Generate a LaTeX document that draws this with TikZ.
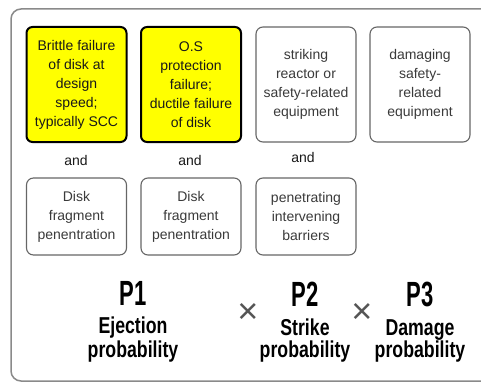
\documentclass[tikz,border=0pt]{standalone}
\usepackage{fontspec}
\setmainfont{Liberation Sans}
\definecolor{boxyellow}{HTML}{FFFF00}
\definecolor{framegray}{HTML}{8A8A8A}
\definecolor{boxgray}{HTML}{666666}
\definecolor{txtgray}{HTML}{3A3A3A}
\definecolor{timesgray}{HTML}{555555}
\begin{document}
\begin{tikzpicture}[x=1pt,y=-1pt,
  ybox/.style={draw=black, line width=2pt, fill=boxyellow, rounded corners=6pt,
    minimum width=100pt, minimum height=115pt, inner sep=0pt, align=center,
    font=\fontsize{14}{19}\selectfont, text=black!90},
  wbox/.style={draw=boxgray, line width=1.1pt, rounded corners=7pt,
    minimum width=100pt, minimum height=115pt, inner sep=0pt, align=center,
    font=\fontsize{14}{19}\selectfont, text=txtgray},
  wboxs/.style={wbox, minimum height=77pt},
  andlbl/.style={font=\fontsize{14}{19}\selectfont, text=black!90, inner sep=0pt},
  plbl/.style={anchor=base, inner sep=0pt, text=black},
  timeslbl/.style={font=\fontsize{36}{36}\selectfont, text=timesgray, inner sep=0pt},
]
\useasboundingbox (0,0) rectangle (481,385);
\draw[framegray, line width=1.5pt, rounded corners=10pt] (11,9) rectangle (500,381);

\node[ybox] (b1) at (76.5,84.5) {Brittle failure\\of disk at\\design\\speed;\\typically SCC};
\node[ybox] (b2) at (191,84.5) {O.S\\protection\\failure;\\ductile failure\\of disk};
\node[wbox] (b3) at (306,84.5) {striking\\reactor or\\safety-related\\equipment};
\node[wbox] (b4) at (420,84.5) {damaging\\safety-\\related\\equipment};

\node[andlbl] (a1) at (76,160) {and};
\node[andlbl] (a2) at (190,160) {and};
\node[andlbl] (a3) at (303,157) {and};

\node[wboxs] (c1) at (76.5,216.5) {Disk\\fragment\\penentration};
\node[wboxs] (c2) at (191,216.5) {Disk\\fragment\\penentration};
\node[wboxs] (c3) at (306,216.5) {penetrating\\intervening\\barriers};

\node[plbl] (p1) at (133,305) {\scalebox{0.63}[1]{\fontsize{35}{35}\selectfont\bfseries P1}};
\node[plbl] (p1a) at (133,333) {\scalebox{0.77}[1]{\fontsize{23}{23}\selectfont\bfseries Ejection}};
\node[plbl] (p1b) at (133,357) {\scalebox{0.77}[1]{\fontsize{23}{23}\selectfont\bfseries probability}};

\node[plbl] (p2) at (305,306) {\scalebox{0.63}[1]{\fontsize{35}{35}\selectfont\bfseries P2}};
\node[plbl] (p2a) at (305,335) {\scalebox{0.77}[1]{\fontsize{23}{23}\selectfont\bfseries Strike}};
\node[plbl] (p2b) at (305,357) {\scalebox{0.77}[1]{\fontsize{23}{23}\selectfont\bfseries probability}};

\node[plbl] (p3) at (420,306) {\scalebox{0.63}[1]{\fontsize{35}{35}\selectfont\bfseries P3}};
\node[plbl] (p3a) at (420,335) {\scalebox{0.77}[1]{\fontsize{23}{23}\selectfont\bfseries Damage}};
\node[plbl] (p3b) at (420,357) {\scalebox{0.77}[1]{\fontsize{23}{23}\selectfont\bfseries probability}};

\node[timeslbl] (x1) at (248,313) {×};
\node[timeslbl] (x2) at (362,313) {×};
\end{tikzpicture}
\end{document}
